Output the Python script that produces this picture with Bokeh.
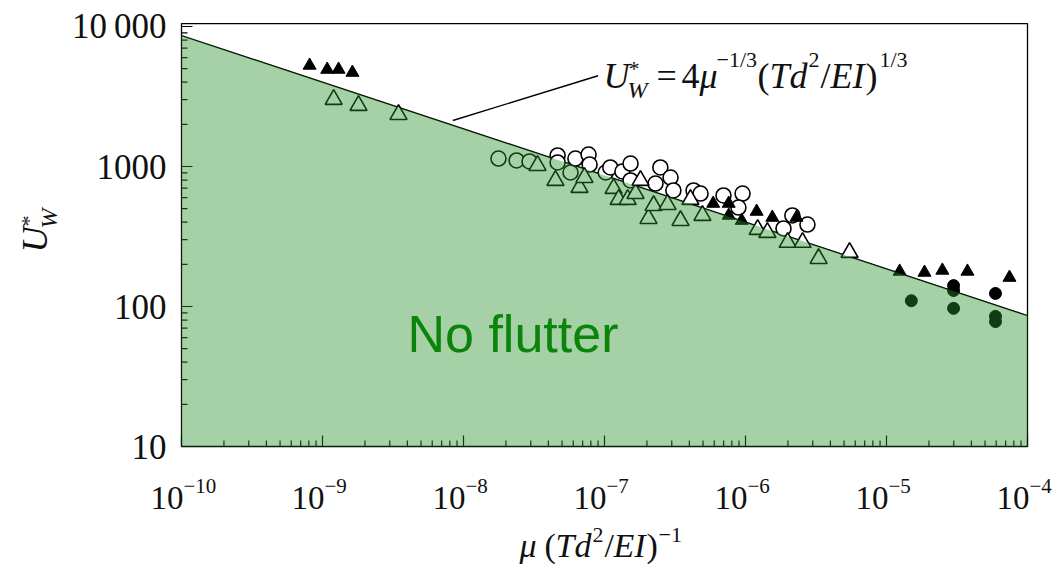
import math
from bokeh.plotting import figure
from bokeh.models import Range1d, Label
from bokeh.core.properties import value
from bokeh.embed import file_html
from bokeh.resources import INLINE

# ---------------- data ----------------
filled_tri_x = [8.1e-10, 1.08e-9, 1.30e-9, 1.63e-9, 5.9e-7, 7.6e-7, 7.6e-7, 9.4e-7,
                1.20e-6, 1.55e-6, 2.30e-6, 1.24e-5, 1.86e-5, 2.49e-5, 3.75e-5, 7.45e-5]
filled_tri_y = [5270, 4930, 4930, 4690, 544, 544, 447, 411,
                477, 432, 432, 178, 175, 181, 178, 161]

filled_circ_x = [1.50e-5, 2.99e-5, 2.99e-5, 2.99e-5, 5.93e-5, 5.93e-5, 5.93e-5]
filled_circ_y = [110, 141, 130, 97, 124, 85, 78]

open_tri_x = [1.20e-9, 1.80e-9, 3.46e-9, 3.35e-8, 4.49e-8, 6.65e-8, 7.21e-8, 1.16e-7,
              1.26e-7, 1.46e-7, 1.66e-7, 1.80e-7, 2.05e-7, 2.23e-7, 2.80e-7, 3.46e-7,
              4.07e-7, 4.95e-7, 1.22e-6, 1.43e-6, 1.99e-6, 2.54e-6, 3.30e-6, 5.47e-6]
open_tri_y = [3010, 2730, 2350, 1016, 795, 708, 834, 697,
              581, 581, 641, 795, 425, 526, 535, 411,
              581, 447, 355, 338, 287, 287, 220, 243]

open_circ_x = [1.77e-8, 2.38e-8, 2.94e-8, 4.65e-8, 4.65e-8, 5.74e-8, 6.22e-8, 7.71e-8,
               7.84e-8, 1.02e-7, 1.10e-7, 1.34e-7, 1.53e-7, 1.53e-7, 2.30e-7, 2.49e-7,
               2.94e-7, 3.08e-7, 4.28e-7, 4.80e-7, 6.98e-7, 9.53e-7, 8.91e-7, 1.86e-6,
               2.15e-6, 2.75e-6]
open_circ_y = [1140, 1104, 1086, 1199, 1069, 906, 1140, 1218,
               1033, 906, 984, 921, 1050, 795, 756, 984,
               834, 674, 674, 641, 621, 641, 509, 361,
               447, 385]

# theory line  U*_W = 4 mu^(-1/3) (Td^2/EI)^(1/3)  ->  U = 4 X^(-1/3)
theory_coef = 4.0
theory_exp = -1.0 / 3.0

# plot box (data limits)
x_min, x_max = 1e-10, 1e-4
y_min, y_max = 10, 10500

x_tick_exponents = [-10, -9, -8, -7, -6, -5, -4]
y_ticks = [10, 100, 1000, 10000]
y_tick_labels = ["10", "100", "1000", "10\u2009000"]

# leader line of the equation annotation (data coords)
leader_x = [8.4e-9, 9.0e-8]
leader_y = [2130, 4450]

# ---------------- layout constants (pixels) ----------------
W, H = 1059, 571
BOX_L, BOX_B = 181, 446        # canvas px of (x_min, y_min)
PXD_X, PXD_Y = 141.0, 140.0    # pixels per decade
BASE_SHIFT = 0.36              # renderer puts the alphabetic baseline this many ems low


def dx(cx):
    return 10 ** (math.log10(x_min) + (cx - BOX_L) / PXD_X)


def dy(cy):
    return 10 ** (math.log10(y_min) + (BOX_B - cy) / PXD_Y)


p = figure(width=W, height=H, x_axis_type="log", y_axis_type="log",
           x_range=Range1d(dx(0), dx(W)), y_range=Range1d(dy(H), dy(0)),
           output_backend="svg", toolbar_location=None,
           min_border=0, min_border_left=0, min_border_right=0,
           min_border_top=0, min_border_bottom=0)
p.axis.visible = False
p.title.visible = False
p.grid.visible = False
p.outline_line_color = None
p.background_fill_color = "white"
p.border_fill_color = "white"

# plot box
p.quad(left=[x_min], right=[x_max], bottom=[y_min], top=[y_max],
       fill_color=None, line_color="black", line_width=1.3)

# ticks (inside, left and bottom)
MAJ, MIN = 11, 6
x_major = [10.0 ** e for e in x_tick_exponents]
x_minor = [m * 10.0 ** e for e in x_tick_exponents[:-1] for m in range(2, 10)]
y_minor = [m * t for t in y_ticks for m in range(2, 10) if m * t < y_max]
p.segment(x0=x_major, x1=x_major, y0=[y_min] * len(x_major),
          y1=[y_min * 10 ** (MAJ / PXD_Y)] * len(x_major), line_color="black", line_width=1.2)
p.segment(x0=x_minor, x1=x_minor, y0=[y_min] * len(x_minor),
          y1=[y_min * 10 ** (MIN / PXD_Y)] * len(x_minor), line_color="black", line_width=1.2)
p.segment(x0=[x_min] * len(y_ticks), x1=[x_min * 10 ** (MAJ / PXD_X)] * len(y_ticks),
          y0=y_ticks, y1=y_ticks, line_color="black", line_width=1.2)
p.segment(x0=[x_min] * len(y_minor), x1=[x_min * 10 ** (MIN / PXD_X)] * len(y_minor),
          y0=y_minor, y1=y_minor, line_color="black", line_width=1.2)

# theory line + leader
line_x = [x_min, x_max]
line_y = [theory_coef * v ** theory_exp for v in line_x]
p.line(line_x, line_y, line_color="black", line_width=1.4)
p.line(leader_x, leader_y, line_color="black", line_width=1.4)

# markers
p.scatter(open_circ_x, open_circ_y, marker="circle", size=15, fill_color="white",
          line_color="black", line_width=1.6)
p.scatter(open_tri_x, open_tri_y, marker="triangle", size=17, fill_color="white",
          line_color="black", line_width=1.6)
p.scatter(filled_tri_x, filled_tri_y, marker="triangle", size=13, fill_color="black",
          line_color="black", line_width=1)
p.scatter(filled_circ_x, filled_circ_y, marker="circle", size=12, fill_color="black",
          line_color="black", line_width=1)

# translucent "no flutter" region on top of the markers
p.varea(x=line_x, y1=[y_min, y_min], y2=line_y, fill_color="#2b8f2b", fill_alpha=0.42)

SERIF = "Liberation Serif"
TXT = "#111111"

# y tick labels
p.text(x=[dx(166)] * len(y_ticks), y=y_ticks, text=y_tick_labels,
       text_font=value(SERIF), text_font_size=value("35px"), text_color=TXT,
       text_align="right", text_baseline="middle")

# x tick labels: "10" with superscript exponent (baselines 509 / 493 px)
x_exp_labels = ["\u2212" + str(-e) for e in x_tick_exponents]
p.text(x=x_major, y=[dy(509 - BASE_SHIFT * 33)] * len(x_major), text=["10"] * len(x_major),
       x_offset=2, text_font=value(SERIF), text_font_size=value("33px"), text_color=TXT,
       text_align="right", text_baseline="alphabetic")
p.text(x=x_major, y=[dy(493 - BASE_SHIFT * 21)] * len(x_major), text=x_exp_labels,
       x_offset=2, text_font=value(SERIF), text_font_size=value("21px"), text_color=TXT,
       text_align="left", text_baseline="alphabetic")


def lab(text, cx, cy, size, style="normal", angle=0.0, color=TXT, font=SERIF):
    """Text whose alphabetic baseline starts at canvas pixel (cx, cy)."""
    if angle:
        cx = cx - BASE_SHIFT * size
    else:
        cy = cy - BASE_SHIFT * size
    p.add_layout(Label(x=cx, y=H - cy, x_units="screen", y_units="screen",
                       text=text, text_font=font, text_font_size=f"{size}px",
                       text_font_style=style, text_align="left",
                       text_baseline="alphabetic", angle=angle, text_color=color))


# x axis title: mu (Td^2/EI)^-1
bx, by, sy = 519, 557, 542
lab("\u03bc", bx, by, 34, "italic")
lab("(", bx + 25, by, 34)
lab("Td", bx + 36, by, 34, "italic")
lab("2", bx + 73, sy, 22)
lab("/", bx + 85, by, 34)
lab("EI", bx + 94, by, 34, "italic")
lab(")", bx + 127, by, 34)
lab("\u22121", bx + 139, sy, 22)

# y axis title: U*_W (rotated)
ang = math.pi / 2
lab("U", 47, 252, 36, "italic", angle=ang)
lab("*", 36, 226, 22, angle=ang)
lab("W", 57, 228, 24, "italic", angle=ang)

# equation annotation
ey, es = 88, 67
lab("U", 603, ey, 36, "italic")
lab("*", 628, 76, 22)
lab("W", 627, 98, 24, "italic")
lab("=", 656, ey, 36)
lab("4", 681, ey, 36)
lab("\u03bc", 699, ey, 36, "italic")
lab("\u22121/3", 716, es, 22)
lab("(", 757, ey, 36)
lab("Td", 769, ey, 36, "italic")
lab("2", 808, es, 22)
lab("/", 820, ey, 36)
lab("EI", 830, ey, 36, "italic")
lab(")", 865, ey, 36)
lab("1/3", 879, es, 22)

# region label
lab("No flutter", 407, 352, 52, color="#0a850a", font="Liberation Sans")

open("out.html", "w").write(file_html(p, INLINE))
